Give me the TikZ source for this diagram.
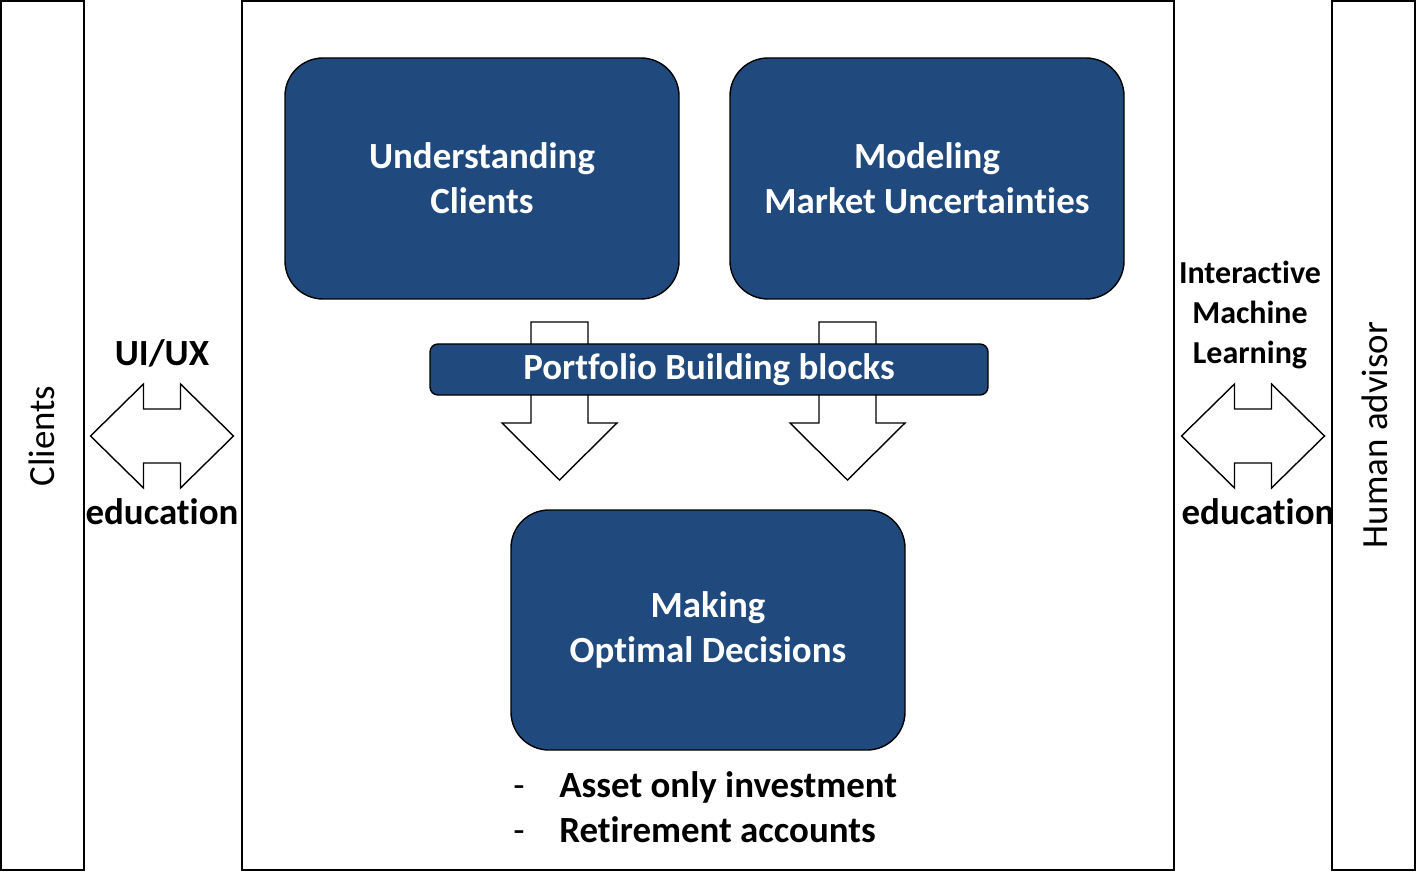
\documentclass[tikz,border=0pt]{standalone}
\usepackage{fontspec}
\setmainfont{Carlito}[Ligatures=NoCommon]
\usetikzlibrary{calc}

\begin{document}
\begin{tikzpicture}[frame/.style={
      draw=black,
      line width=1.1pt,
      minimum height=17.38cm
    },
    block/.style={
      draw=black,
      fill=dblue,
      line width=0.8pt,
      rounded corners=0.76cm,
      text=white,
      align=center,
      font=\fontsize{21}{25.6}\selectfont\bfseries,
      minimum width=7.88cm,
      minimum height=4.82cm
    },
    blockarrow/.style={draw=black,fill=white,line width=0.8pt},
    label/.style={align=center,inner sep=0pt,font=\fontsize{21}{25.6}\selectfont\bfseries}]
\definecolor{dblue}{RGB}{32,73,125}

\useasboundingbox (0,0) rectangle (28.38,-17.5);

\node[frame, minimum width=1.66cm] (cl) at (0.85, -8.71) {};
\node[frame, minimum width=18.64cm] (mf) at (14.16, -8.71) {};
\node[frame, minimum width=1.66cm] (ha) at (27.47, -8.71) {};
\node[rotate=90,font=\fontsize{21}{25.6}\selectfont] (clt) at (0.84, -8.72) {Clients};
\node[rotate=90,font=\fontsize{21}{25.6}\selectfont] (hat) at (27.5, -8.7) {Human advisor};

\node[block] (uc) at (9.64, -3.57) {Understanding \\ Clients};
\node[block] (mm) at (18.54, -3.57) {Modeling \\ Market Uncertainties};
\node[block, minimum height=4.8cm] (od) at (14.16, -12.6) {Making \\ Optimal Decisions};

% down arrows behind the bar
\foreach \x in {11.19, 16.95}
  \draw[blockarrow] (\x-0.57,-6.44) -- (\x+0.57,-6.44) -- (\x+0.57,-8.46) -- (\x+1.15,-8.46) -- (\x,-9.6) -- (\x-1.15,-8.46) -- (\x-0.57,-8.46) -- cycle;

\node[block, rounded corners=0.16cm, minimum width=11.16cm, minimum height=1.02cm] (pb) at (14.18, -7.39) {Portfolio Building blocks};

% double arrows
\foreach \x in {3.24, 25.06}
  \draw[blockarrow] (\x-1.43,-8.72) -- (\x-0.37,-7.68) -- (\x-0.37,-8.18) -- (\x+0.37,-8.18) -- (\x+0.37,-7.68) -- (\x+1.43,-8.72) -- (\x+0.37,-9.76) -- (\x+0.37,-9.26) -- (\x-0.37,-9.26) -- (\x-0.37,-9.76) -- cycle;

\node[label] (ui) at (3.24, -7.06) {UI/UX};
\node[label] (edl) at (3.24, -10.24) {education};
\node[label, font=\fontsize{18.2}{22.8}\selectfont\bfseries] (iml) at (25.0, -6.3) {Interactive \\ Machine \\ Learning};
\node[label] (edr) at (25.16, -10.24) {education};

\node[label, anchor=west, align=left] (bl) at (10.26, -16.15) {\makebox[0.92cm][l]{\mdseries -}Asset only investment \\ \makebox[0.92cm][l]{\mdseries -}Retirement accounts};

\end{tikzpicture}
\end{document}
